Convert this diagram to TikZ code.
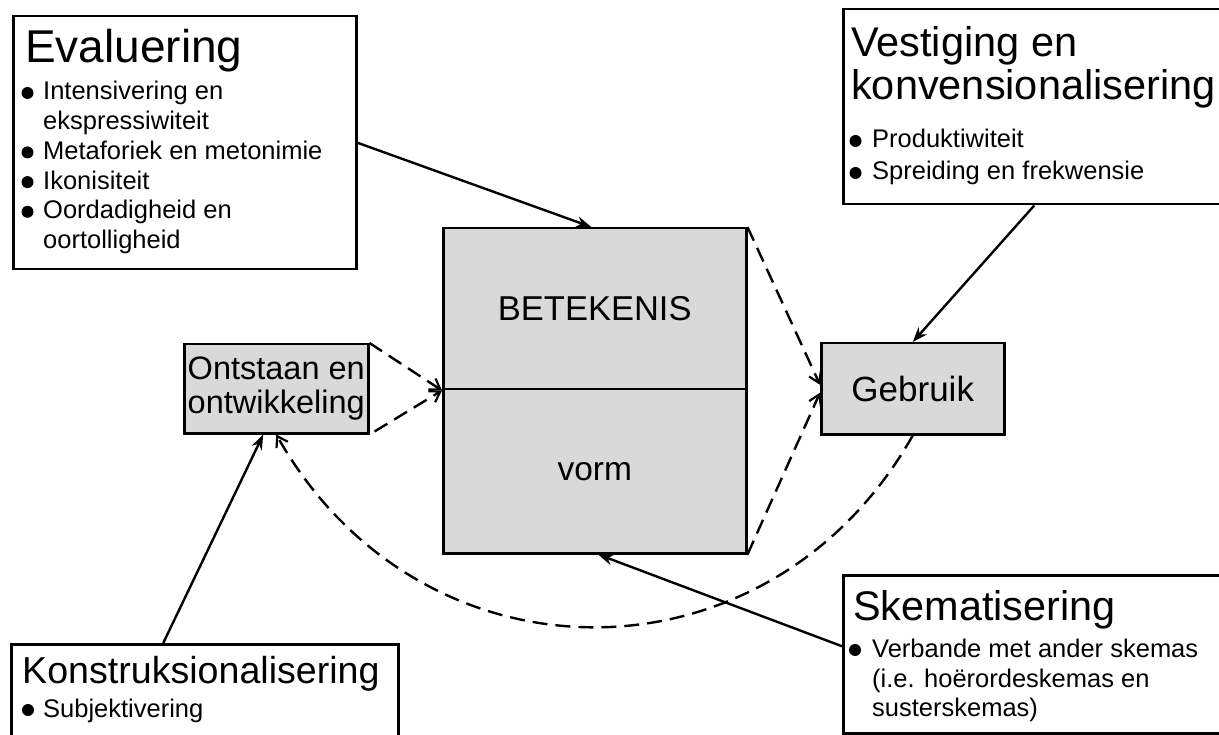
\documentclass[tikz,border=0pt]{standalone}
\usepackage{fontspec}
\setmainfont{Liberation Sans}
\usetikzlibrary{arrows.meta,calc}
\definecolor{boxgray}{HTML}{D9D9D9}
\newcommand{\itemsize}{\fontsize{25.5}{30}\selectfont}
\begin{document}
\begin{tikzpicture}[x=1pt,y=-1pt,
  frame/.style={draw, line width=2.5pt, inner sep=0pt, anchor=north west},
  plain/.style={frame, fill=white},
  shaded/.style={frame, fill=boxgray},
  txt/.style={anchor=base west, inner sep=0pt},
  item/.style={txt, font=\itemsize},
  dot/.style={circle, fill=black, inner sep=0pt, minimum size=12pt},
  link/.style={line width=2.4pt, -{Stealth[length=15pt,width=11pt]}},
  dlink/.style={line width=2.4pt, dash pattern=on 15pt off 8pt,
                -{Straight Barb[length=10pt,width=13pt,line width=2.2pt]}},
]
\useasboundingbox (0,0) rectangle (1219,735);
\clip (0,0) rectangle (1219,735);

% ---- boxes ----
\node[plain, minimum width=343pt, minimum height=253pt] (eval) at (12,15) {};
\node[plain, minimum width=388pt, minimum height=195pt] (vest) at (842,8) {};
\node[plain, minimum width=387pt, minimum height=130pt] (konst) at (10,643) {};
\node[plain, minimum width=388pt, minimum height=158pt] (skem) at (842,574) {};

\node[shaded, minimum width=303pt, minimum height=161pt,
      font=\fontsize{34.5}{36}\selectfont] (meaning) at (442,227) {BETEKENIS};
\node[shaded, minimum width=303pt, minimum height=164pt,
      font=\fontsize{33.5}{36}\selectfont] (form) at (442,388) {vorm};
\node[shaded, minimum width=184pt, minimum height=89pt, align=center,
      font=\fontsize{32.5}{34}\selectfont] (ont) at (183,343)
      {Ontstaan en\\ontwikkeling};
\node[shaded, minimum width=183pt, minimum height=91pt,
      font=\fontsize{35}{36}\selectfont] (geb) at (820,342) {Gebruik};

% ---- Evaluering ----
\node[txt, font=\fontsize{46}{46}\selectfont] (evalT) at (25,63) {Evaluering};
\node[dot] (evalB1) at (27.5,93) {};
\node[item] (evalL1) at (43,100) {Intensivering en};
\node[item] (evalL2) at (43,129.7) {ekspressiwiteit};
\node[dot] (evalB2) at (27.5,152.4) {};
\node[item] (evalL3) at (43,159.4) {Metaforiek en metonimie};
\node[dot] (evalB3) at (27.5,182.1) {};
\node[item] (evalL4) at (43,189.1) {Ikonisiteit};
\node[dot] (evalB4) at (27.5,211.8) {};
\node[item] (evalL5) at (43,218.8) {Oordadigheid en};
\node[item] (evalL6) at (43,248.5) {oortolligheid};

% ---- Vestiging en konvensionalisering ----
\node[txt, font=\fontsize{41.5}{42}\selectfont] (vestT1) at (851,57) {Vestiging en};
\node[txt, font=\fontsize{41.5}{42}\selectfont] (vestT2) at (851,100) {konvensionalisering};
\node[dot] (vestB1) at (855.5,141) {};
\node[item] (vestL1) at (872,148) {Produktiwiteit};
\node[dot] (vestB2) at (855.5,173) {};
\node[item] (vestL2) at (872,180) {Spreiding en frekwensie};

% ---- Konstruksionalisering ----
\node[txt, font=\fontsize{37.6}{38}\selectfont] (konstT) at (22,683) {Konstruksionalisering};
\node[dot] (konstB1) at (28,710) {};
\node[item] (konstL1) at (43,717) {Subjektivering};

% ---- Skematisering ----
\node[txt, font=\fontsize{41.4}{42}\selectfont] (skemT) at (853,620) {Skematisering};
\node[dot] (skemB1) at (855,650) {};
\node[item] (skemL1) at (872,657) {Verbande met ander skemas};
\node[item] (skemL2) at (872,687) {(i.e. hoërordeskemas en};
\node[item] (skemL3) at (872,716.5) {susterskemas)};

% ---- solid connectors ----
\draw[link] (eval.east) -- ([xshift=-3.5pt]meaning.north);
\draw[link] ([xshift=-3pt]vest.south) -- (geb.north);
\draw[link] ([yshift=8pt]skem.west) -- ([xshift=3.5pt]form.south);
\draw[link] ([xshift=-41.5pt]konst.north) -- ([xshift=-13pt]ont.south);

% ---- dashed connectors ----
\draw[dlink] (ont.north east) -- (meaning.south west);
\draw[dlink] ([xshift=5pt,yshift=3pt]ont.south east) -- (meaning.south west);
\draw[dlink] (meaning.north east) -- ([yshift=4pt]geb.west);
\draw[dlink] (form.south east) -- ([yshift=-4pt]geb.west);
\draw[dlink] (geb.south) .. controls +(-145,256) and +(145,256) .. (ont.south);
\end{tikzpicture}
\end{document}
